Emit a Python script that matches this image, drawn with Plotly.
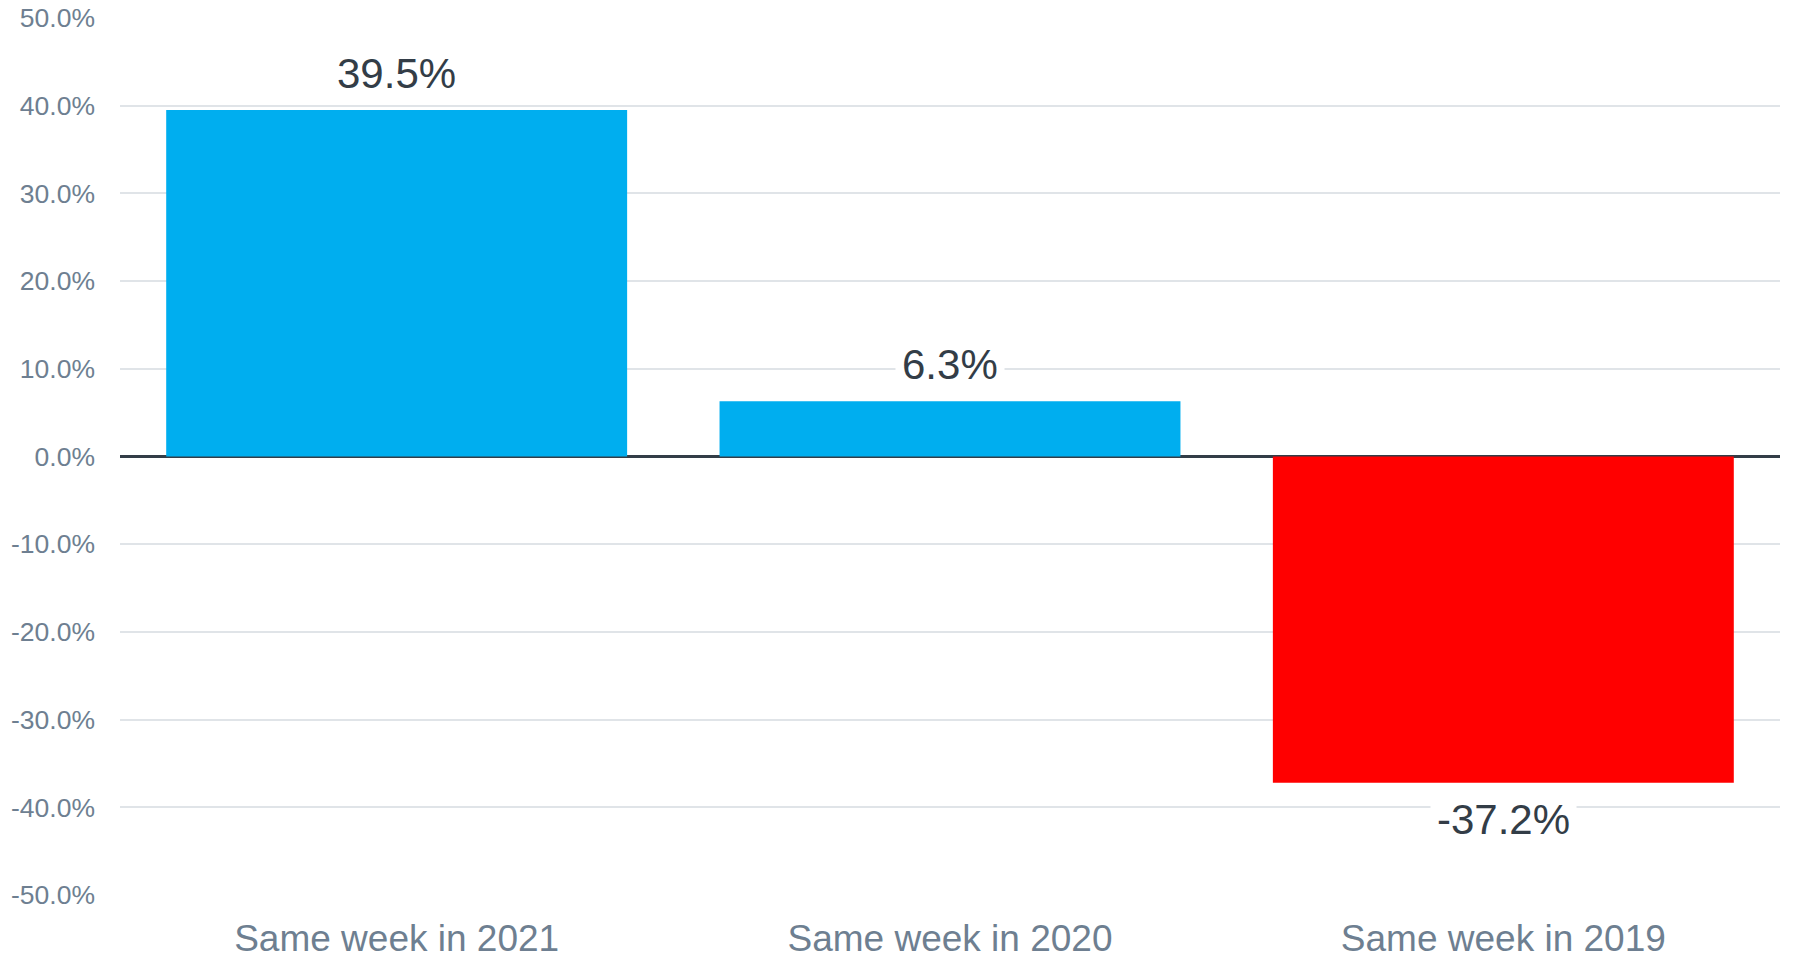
import plotly.graph_objects as go

categories = ["Same week in 2021", "Same week in 2020", "Same week in 2019"]
values = [39.5, 6.3, -37.2]
labels = ["39.5%", "6.3%", "-37.2%"]
tick_vals = [-50, -40, -30, -20, -10, 0, 10, 20, 30, 40, 50]
tick_text = ["-50.0%", "-40.0%", "-30.0%", "-20.0%", "-10.0%", "0.0%",
             "10.0%", "20.0%", "30.0%", "40.0%", "50.0%"]

POS = "#00aeef"
NEG = "#ff0000"
colors = [POS if v >= 0 else NEG for v in values]

FONT = "Liberation Sans, Arial, sans-serif"
AXIS_COLOR = "#6e7f91"
LABEL_COLOR = "#333d47"

fig = go.Figure()
fig.add_trace(go.Bar(
    x=categories, y=values, marker=dict(color=colors, line=dict(width=0)),
    hoverinfo="skip", showlegend=False,
))

for c, v, t in zip(categories, values, labels):
    fig.add_annotation(
        x=c, y=v, text=t, showarrow=False,
        yshift=37 if v >= 0 else -37, yanchor="middle", xanchor="center",
        font=dict(family=FONT, size=42, color=LABEL_COLOR),
        bgcolor="white", borderpad=6,
    )

fig.update_layout(
    width=1795, height=957,
    margin=dict(l=120, r=15, t=18, b=62),
    paper_bgcolor="white", plot_bgcolor="white",
    bargap=0.167,
    font=dict(family=FONT),
    xaxis=dict(
        type="category", showgrid=False, showline=False, zeroline=False,
        ticks="", tickfont=dict(family=FONT, size=37, color=AXIS_COLOR),
        ticklabelstandoff=18, automargin=False,
    ),
    yaxis=dict(
        range=[-50, 50], tickvals=tick_vals, ticktext=tick_text,
        showgrid=True, gridcolor="#e0e4e8", gridwidth=2,
        zeroline=True, zerolinecolor="#333d47", zerolinewidth=3,
        showline=False, ticks="",
        tickfont=dict(family=FONT, size=26.5, color=AXIS_COLOR),
        ticklabelstandoff=24, automargin=False,
    ),
)

fig.write_html("out.html")
